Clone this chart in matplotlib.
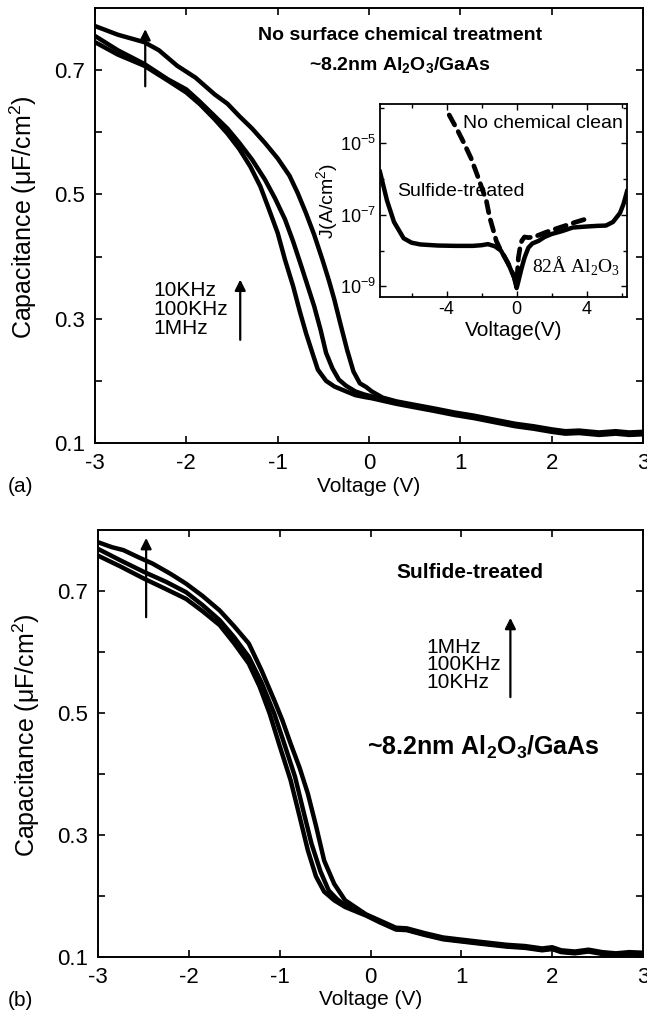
import numpy as np
import matplotlib
matplotlib.use('Agg')
import matplotlib.pyplot as plt
from matplotlib.ticker import FixedLocator, NullFormatter, FixedFormatter

plt.rcParams['font.family'] = ['Liberation Sans', 'DejaVu Sans']
plt.rcParams['axes.unicode_minus'] = False
plt.rcParams['mathtext.fontset'] = 'custom'
plt.rcParams['mathtext.rm'] = 'Liberation Sans'
plt.rcParams['mathtext.bf'] = 'Liberation Sans:bold'
plt.rcParams['mathtext.sf'] = 'Liberation Serif'
plt.rcParams['mathtext.it'] = 'Liberation Sans:italic'

# ---------------- Panel (a): no surface chemical treatment ----------------
v_a_10k = [-3.0, -2.75, -2.46, -2.3, -2.1, -1.9, -1.69, -1.55, -1.42, -1.28, -1.14, -1.0,
           -0.87, -0.78, -0.69, -0.6, -0.51, -0.44, -0.38, -0.31, -0.24, -0.17, -0.10, -0.03,
           0.03, 0.15, 0.3, 0.48, 0.7, 0.94, 1.15, 1.39, 1.6, 1.8, 2.0, 2.15, 2.3, 2.52, 2.7, 2.85, 3.0]
c_a_10k = [0.771, 0.757, 0.745, 0.732, 0.707, 0.688, 0.661, 0.646, 0.626, 0.606, 0.583, 0.558,
           0.530, 0.502, 0.470, 0.435, 0.395, 0.362, 0.331, 0.290, 0.250, 0.215, 0.196, 0.190,
           0.183, 0.173, 0.167, 0.162, 0.156, 0.149, 0.144, 0.137, 0.131, 0.127, 0.122, 0.119,
           0.120, 0.117, 0.119, 0.117, 0.118]

v_a_100k = [-3.0, -2.75, -2.46, -2.2, -2.0, -1.85, -1.69, -1.55, -1.42, -1.28, -1.14, -1.03,
            -0.92, -0.83, -0.74, -0.67, -0.60, -0.53, -0.47, -0.40, -0.33, -0.25, -0.15, -0.05,
            0.03, 0.15, 0.3, 0.48, 0.7, 0.94, 1.15, 1.39, 1.6, 1.8, 2.0, 2.15, 2.3, 2.52, 2.7, 2.85, 3.0]
c_a_100k = [0.755, 0.732, 0.710, 0.685, 0.669, 0.649, 0.626, 0.606, 0.583, 0.556, 0.524, 0.494,
            0.460, 0.424, 0.384, 0.352, 0.320, 0.282, 0.245, 0.220, 0.202, 0.192, 0.183, 0.178,
            0.175, 0.170, 0.165, 0.160, 0.154, 0.147, 0.142, 0.135, 0.129, 0.125, 0.120, 0.117,
            0.118, 0.115, 0.117, 0.115, 0.116]

v_a_1m = [-3.0, -2.75, -2.46, -2.2, -2.0, -1.85, -1.69, -1.55, -1.42, -1.3, -1.19, -1.1,
          -1.0, -0.92, -0.83, -0.76, -0.69, -0.62, -0.56, -0.47, -0.38, -0.25, -0.15, -0.05,
          0.03, 0.15, 0.3, 0.48, 0.7, 0.94, 1.15, 1.39, 1.6, 1.8, 2.0, 2.15, 2.3, 2.52, 2.7, 2.85, 3.0]
c_a_1m = [0.745, 0.725, 0.707, 0.683, 0.664, 0.645, 0.621, 0.598, 0.573, 0.545, 0.513, 0.478,
          0.438, 0.395, 0.352, 0.313, 0.277, 0.245, 0.218, 0.200, 0.191, 0.183, 0.177, 0.174,
          0.172, 0.168, 0.163, 0.158, 0.152, 0.145, 0.140, 0.133, 0.127, 0.123, 0.118, 0.115,
          0.116, 0.113, 0.115, 0.113, 0.114]

# ---------------- Panel (b): sulfide-treated ----------------
v_b_1m = [-3.0, -2.85, -2.72, -2.55, -2.4, -2.2, -2.03, -1.85, -1.66, -1.5, -1.34, -1.2, -1.06,
          -0.97, -0.88, -0.78, -0.69, -0.6, -0.51, -0.4, -0.28, -0.15, -0.05, 0.1, 0.28, 0.4,
          0.6, 0.8, 0.97, 1.2, 1.5, 1.7, 1.89, 2.0, 2.1, 2.25, 2.4, 2.55, 2.7, 2.85, 3.0]
c_b_1m = [0.780, 0.772, 0.767, 0.755, 0.745, 0.728, 0.712, 0.692, 0.668, 0.642, 0.614, 0.570, 0.521,
          0.488, 0.450, 0.410, 0.368, 0.315, 0.258, 0.220, 0.193, 0.180, 0.170, 0.160, 0.148, 0.147,
          0.139, 0.132, 0.129, 0.125, 0.120, 0.118, 0.114, 0.116, 0.111, 0.109, 0.112, 0.108,
          0.106, 0.108, 0.107]

v_b_100k = [-3.0, -2.75, -2.49, -2.25, -2.03, -1.85, -1.66, -1.5, -1.34, -1.2, -1.06, -0.95,
            -0.83, -0.74, -0.65, -0.55, -0.46, -0.37, -0.28, -0.15, -0.05, 0.1, 0.28, 0.4,
            0.6, 0.8, 0.97, 1.2, 1.5, 1.7, 1.89, 2.0, 2.1, 2.25, 2.4, 2.55, 2.7, 2.85, 3.0]
c_b_100k = [0.769, 0.750, 0.731, 0.715, 0.698, 0.677, 0.652, 0.624, 0.592, 0.550, 0.499, 0.450,
            0.395, 0.340, 0.286, 0.240, 0.209, 0.195, 0.185, 0.176, 0.169, 0.158, 0.146, 0.145,
            0.137, 0.130, 0.127, 0.123, 0.118, 0.116, 0.112, 0.114, 0.109, 0.107, 0.110, 0.106,
            0.104, 0.106, 0.105]

v_b_10k = [-3.0, -2.75, -2.49, -2.25, -2.03, -1.85, -1.66, -1.5, -1.34, -1.22, -1.11, -1.0,
           -0.88, -0.78, -0.69, -0.6, -0.51, -0.4, -0.28, -0.15, -0.05, 0.1, 0.28, 0.4,
           0.6, 0.8, 0.97, 1.2, 1.5, 1.7, 1.89, 2.0, 2.1, 2.25, 2.4, 2.55, 2.7, 2.85, 3.0]
c_b_10k = [0.758, 0.740, 0.720, 0.703, 0.687, 0.667, 0.644, 0.614, 0.581, 0.543, 0.499, 0.446,
           0.390, 0.330, 0.275, 0.232, 0.207, 0.193, 0.182, 0.174, 0.168, 0.157, 0.145, 0.144,
           0.136, 0.129, 0.126, 0.122, 0.117, 0.115, 0.111, 0.113, 0.108, 0.106, 0.109, 0.105,
           0.103, 0.105, 0.104]

# ---------------- Inset: J-V ----------------
v_in_sulfide = [-7.8, -7.4, -7.0, -6.45, -6.0, -5.5, -4.5, -3.5, -2.5, -2.0, -1.64, -1.25, -0.9,
                -0.67, -0.45, -0.29, -0.15, -0.05, 0.0, 0.08, 0.18, 0.29, 0.45, 0.67, 0.9, 1.25,
                1.6, 2.0, 2.6, 3.2, 4.0, 4.6, 5.1, 5.5, 5.9, 6.1, 6.3]
j_in_sulfide = [1.58e-6, 2.5e-7, 6.3e-8, 2.2e-8, 1.66e-8, 1.48e-8, 1.38e-8, 1.35e-8, 1.35e-8,
                1.41e-8, 1.51e-8, 1.32e-8, 1.0e-8, 6.3e-9, 4.0e-9, 2.6e-9, 1.8e-9, 1.12e-9,
                8.9e-10, 1.26e-9, 2.0e-9, 3.3e-9, 6.3e-9, 1.2e-8, 1.58e-8, 1.86e-8, 2.4e-8,
                2.9e-8, 3.5e-8, 4.4e-8, 4.7e-8, 4.9e-8, 5.0e-8, 6.3e-8, 1.12e-7, 2.0e-7, 4.5e-7]

v_in_noclean = [-3.85, -3.37, -3.0, -2.6, -2.2, -1.95, -1.73, -1.54, -1.35, -1.16, -0.95, -0.77,
                -0.5, -0.19, 0.0, 0.1, 0.2, 0.29, 0.45, 0.67, 1.0, 1.64, 2.2, 2.8, 3.4, 3.95]
j_in_noclean = [6.2e-5, 2.3e-5, 1.0e-5, 3.8e-6, 1.12e-6, 5.0e-7, 2.5e-7, 8.5e-8, 4.0e-8, 1.86e-8,
                1.12e-8, 7.9e-9, 4.5e-9, 2.1e-9, 1.12e-9, 6.3e-9, 1.26e-8, 1.86e-8, 2.4e-8,
                2.3e-8, 2.4e-8, 3.2e-8, 4.0e-8, 5.0e-8, 6.3e-8, 7.6e-8]

x_ticks = [-3, -2, -1, 0, 1, 2, 3]
y_ticks = [0.1, 0.2, 0.3, 0.4, 0.5, 0.6, 0.7]
y_ticklabels = ['0.1', '', '0.3', '', '0.5', '', '0.7']
inset_xticks = [-4, 0, 4]
inset_xminor = [-6, -2, 2, 6]
inset_yticks = [1e-9, 1e-7, 1e-5]
inset_yticklabels = ['10$^{-9}$', '10$^{-7}$', '10$^{-5}$']
inset_yminor = [1e-8, 1e-6, 1e-4]

W, H = 647, 1011
fig = plt.figure(figsize=(W / 100, H / 100), dpi=100)

def fx(px):
    return px / W

def fy(py):
    return 1 - py / H

ax1 = fig.add_axes([fx(95), fy(443), (643 - 95) / W, (443 - 8) / H])
ax2 = fig.add_axes([fx(98), fy(957), (643 - 98) / W, (957 - 530) / H])
axin = fig.add_axes([fx(380), fy(297), (627 - 380) / W, (297 - 104) / H])

LW = 3.2
for ax in (ax1, ax2):
    ax.set_xlim(-3, 3)
    ax.set_ylim(0.1, 0.8)
    ax.set_xticks(x_ticks)
    ax.set_xticklabels([str(t) for t in x_ticks])
    ax.set_yticks(y_ticks)
    ax.set_yticklabels(y_ticklabels)
    ax.tick_params(direction='in', length=5, width=1.2, top=True, right=True,
                   labelsize=16, pad=7)
    for s in ax.spines.values():
        s.set_linewidth(1.4)
    ax.text(-0.131, 0.52, 'Capacitance (\u03bcF/cm$^2$)', transform=ax.transAxes,
            rotation=90, ha='center', va='center', fontsize=18)
    ax.text(0.5, -0.10, 'Voltage (V)', transform=ax.transAxes, ha='center',
            va='center', fontsize=15)

ax1.plot(v_a_10k, c_a_10k, color='black', lw=LW, solid_joinstyle='round')
ax1.plot(v_a_100k, c_a_100k, color='black', lw=LW, solid_joinstyle='round')
ax1.plot(v_a_1m, c_a_1m, color='black', lw=LW, solid_joinstyle='round')

ax2.plot(v_b_1m, c_b_1m, color='black', lw=LW, solid_joinstyle='round')
ax2.plot(v_b_100k, c_b_100k, color='black', lw=LW, solid_joinstyle='round')
ax2.plot(v_b_10k, c_b_10k, color='black', lw=LW, solid_joinstyle='round')

arrow_kw = dict(arrowstyle='-|>', lw=1.6, color='black', mutation_scale=16,
                shrinkA=0, shrinkB=0)
# panel (a) annotations
ax1.annotate('', xy=(-2.45, 0.766), xytext=(-2.45, 0.674), arrowprops=arrow_kw)
ax1.annotate('', xy=(-1.41, 0.363), xytext=(-1.41, 0.266), arrowprops=arrow_kw)
ax1.text(-2.36, 0.315, '10KHz\n100KHz\n1MHz', ha='left', va='center', fontsize=15,
         linespacing=1.0)
ax1.text(0.34, 0.756, 'No surface chemical treatment', ha='center', va='center',
         fontsize=14, fontweight='bold')
ax1.text(0.34, 0.709, r'~8.2nm Al$_\mathbf{2}$O$_\mathbf{3}$/GaAs', ha='center',
         va='center', fontsize=14, fontweight='bold')

# panel (b) annotations
ax2.annotate('', xy=(-2.47, 0.787), xytext=(-2.47, 0.657), arrowprops=arrow_kw)
ax2.annotate('', xy=(1.54, 0.656), xytext=(1.54, 0.526), arrowprops=arrow_kw)
ax2.text(0.62, 0.579, '1MHz\n100KHz\n10KHz', ha='left', va='center', fontsize=15,
         linespacing=0.9)
ax2.text(1.09, 0.731, 'Sulfide-treated', ha='center', va='center', fontsize=15,
         fontweight='bold')
ax2.text(1.24, 0.443, r'~8.2nm Al$_\mathbf{2}$O$_\mathbf{3}$/GaAs', ha='center',
         va='center', fontsize=18, fontweight='bold')

fig.text(fx(8), fy(487), '(a)', ha='left', va='center', fontsize=15)
fig.text(fx(8), fy(1000), '(b)', ha='left', va='center', fontsize=15)

# inset
axin.set_yscale('log')
axin.set_xlim(-7.8, 6.3)
axin.set_ylim(10 ** -9.3, 10 ** -3.9)
axin.plot(v_in_sulfide, j_in_sulfide, color='black', lw=3.2, solid_joinstyle='round')
axin.plot(v_in_noclean, j_in_noclean, color='black', lw=3.4, linestyle=(0, (2.4, 1.6)),
          dash_capstyle='round')
axin.xaxis.set_major_locator(FixedLocator(inset_xticks))
axin.xaxis.set_minor_locator(FixedLocator(inset_xminor))
axin.xaxis.set_major_formatter(FixedFormatter([str(t) for t in inset_xticks]))
axin.yaxis.set_major_locator(FixedLocator(inset_yticks))
axin.yaxis.set_major_formatter(FixedFormatter(inset_yticklabels))
axin.yaxis.set_minor_locator(FixedLocator(inset_yminor))
axin.yaxis.set_minor_formatter(NullFormatter())
axin.tick_params(which='both', direction='in', top=True, right=True, width=1.0)
axin.tick_params(which='major', length=4, labelsize=13, pad=3)
axin.tick_params(which='minor', length=3)
for s in axin.spines.values():
    s.set_linewidth(1.3)
axin.text(-0.215, 0.5, 'J(A/cm$^2$)', transform=axin.transAxes, rotation=90,
          ha='center', va='center', fontsize=14)
axin.text(0.54, -0.175, 'Voltage(V)', transform=axin.transAxes, ha='center',
          va='center', fontsize=15)
axin.text(-3.08, 10 ** -4.44, 'No chemical clean', ha='left', va='center', fontsize=14)
axin.text(-6.84, 10 ** -6.36, 'Sulfide-treated', ha='left', va='center', fontsize=14)
axin.text(0.87, 10 ** -8.41, '82\u00c5 Al$_\\mathsf{2}$O$_\\mathsf{3}$', ha='left',
          va='center', fontsize=14, family=['Liberation Serif', 'DejaVu Serif'])

fig.savefig('out.png', dpi=100)
